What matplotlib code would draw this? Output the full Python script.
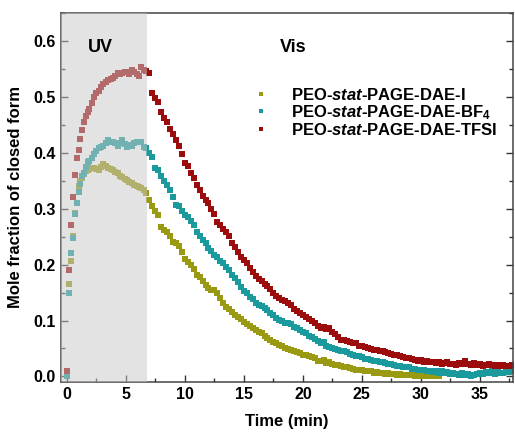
import matplotlib
matplotlib.use('Agg')
import matplotlib.pyplot as plt
from matplotlib.ticker import MultipleLocator

plt.rcParams['font.family'] = ['Liberation Sans', 'DejaVu Sans']
plt.rcParams['font.weight'] = 'bold'
plt.rcParams['mathtext.fontset'] = 'custom'
plt.rcParams['mathtext.rm'] = 'Liberation Sans:bold'
plt.rcParams['mathtext.it'] = 'Liberation Sans:bold:italic'
plt.rcParams['mathtext.bf'] = 'Liberation Sans:bold'

# sampling times (min): UV irradiation phase, then Vis decay phase
time_uv = [0.0, 0.17, 0.34, 0.5, 0.65, 0.82, 1.0, 1.15, 1.3, 1.45, 1.6, 1.75,
           1.9, 2.1, 2.3, 2.5, 2.7, 2.9, 3.1, 3.3, 3.5, 3.7, 3.9, 4.1, 4.3,
           4.5, 4.7, 4.9, 5.1, 5.3, 5.5, 5.7, 5.9, 6.1, 6.3, 6.5, 6.7]
time_vis = [7.0, 7.25, 7.5, 7.75, 8.0, 8.25, 8.5, 8.75, 9.0, 9.25, 9.5, 9.75,
            10.0, 10.25, 10.5, 10.75, 11.0, 11.25, 11.5, 11.75, 12.0, 12.25, 12.5, 12.75,
            13.0, 13.25, 13.5, 13.75, 14.0, 14.25, 14.5, 14.75, 15.0, 15.25, 15.5, 15.75,
            16.0, 16.25, 16.5, 16.75, 17.0, 17.25, 17.5, 17.75, 18.0, 18.25, 18.5, 18.75,
            19.0, 19.25, 19.5, 19.75, 20.0, 20.25, 20.5, 20.75, 21.0, 21.25, 21.5, 21.75,
            22.0, 22.25, 22.5, 22.75, 23.0, 23.25, 23.5, 23.75, 24.0, 24.25, 24.5, 24.75,
            25.0, 25.25, 25.5, 25.75, 26.0, 26.25, 26.5, 26.75, 27.0, 27.25, 27.5, 27.75,
            28.0, 28.25, 28.5, 28.75, 29.0, 29.25, 29.5, 29.75, 30.0, 30.25, 30.5, 30.75,
            31.0, 31.25, 31.5, 31.75, 32.0, 32.25, 32.5, 32.75, 33.0, 33.25, 33.5, 33.75,
            34.0, 34.25, 34.5, 34.75, 35.0, 35.25, 35.5, 35.75, 36.0, 36.25, 36.5, 36.75,
            37.0, 37.25, 37.5, 37.75]
time_min = time_uv + time_vis

# mole fraction of closed form
dae_i = [0.0, 0.166, 0.206, 0.252, 0.292, 0.31, 0.34, 0.35, 0.355, 0.362, 0.367, 0.37,
         0.371, 0.372, 0.372, 0.371, 0.37, 0.374, 0.379, 0.376, 0.373, 0.371, 0.37, 0.366,
         0.363, 0.359, 0.357, 0.353, 0.351, 0.348, 0.346, 0.343, 0.341, 0.338, 0.337, 0.333, 0.328,
         0.315, 0.305, 0.295, 0.288,
         0.268, 0.262, 0.258, 0.252,
         0.241, 0.238, 0.233, 0.222,
         0.21, 0.205, 0.2, 0.193,
         0.182, 0.177, 0.171, 0.163,
         0.158, 0.155, 0.154, 0.149,
         0.14, 0.132, 0.124, 0.12,
         0.115, 0.11, 0.106, 0.103,
         0.097, 0.094, 0.09, 0.087,
         0.083, 0.079, 0.077, 0.072,
         0.069, 0.066, 0.061, 0.059,
         0.057, 0.054, 0.051, 0.049,
         0.047, 0.045, 0.043, 0.041,
         0.039, 0.038, 0.036, 0.035,
         0.033, 0.028, 0.027, 0.03,
         0.024, 0.025, 0.023, 0.021,
         0.02, 0.018, 0.017, 0.016,
         0.015, 0.013, 0.012, 0.012,
         0.011, 0.01, 0.009, 0.009,
         0.007, 0.008, 0.007, 0.006,
         0.005, 0.006, 0.004, 0.004,
         0.003, 0.004, 0.003, 0.002,
         0.002, 0.003, 0.001, 0.002,
         0.001, 0.002, 0.0, 0.001,
         0.0, 0.001, 0.0]

dae_bf4 = [0.0, 0.15, 0.22, 0.248, 0.29, 0.31, 0.329, 0.345, 0.358, 0.364, 0.375, 0.383,
           0.386, 0.39, 0.398, 0.404, 0.408, 0.41, 0.412, 0.418, 0.422, 0.419, 0.42, 0.417,
           0.412, 0.418, 0.423, 0.415, 0.41, 0.413, 0.412, 0.417, 0.419, 0.42, 0.42, 0.411, 0.408,
           0.40, 0.392, 0.372, 0.369,
           0.358, 0.35, 0.343, 0.334,
           0.32, 0.307, 0.304, 0.296,
           0.289, 0.286, 0.278, 0.27,
           0.259, 0.252, 0.244, 0.238,
           0.229, 0.224, 0.218, 0.213,
           0.206, 0.202, 0.196, 0.19,
           0.181, 0.176, 0.168, 0.16,
           0.153, 0.149, 0.142, 0.139,
           0.131, 0.128, 0.126, 0.122,
           0.118, 0.113, 0.109, 0.105,
           0.101, 0.099, 0.096, 0.095,
           0.093, 0.089, 0.086, 0.083,
           0.079, 0.077, 0.073, 0.070,
           0.067, 0.063, 0.060, 0.061,
           0.055, 0.053, 0.051, 0.049,
           0.048, 0.046, 0.045, 0.043,
           0.040, 0.039, 0.036, 0.036,
           0.034, 0.032, 0.031, 0.03,
           0.028, 0.028, 0.026, 0.025,
           0.024, 0.022, 0.022, 0.020,
           0.019, 0.018, 0.017, 0.016,
           0.016, 0.014, 0.013, 0.012,
           0.011, 0.012, 0.009, 0.010,
           0.008, 0.010, 0.007, 0.009,
           0.006, 0.008, 0.005, 0.007,
           0.004, 0.003, 0.006, 0.002,
           0.004, 0.001, 0.003, 0.005,
           0.007, 0.004, 0.008, 0.006,
           0.009, 0.005, 0.011, 0.007,
           0.006, 0.01, 0.008, 0.009]

dae_tfsi = [0.01, 0.19, 0.27, 0.32, 0.36, 0.39, 0.405, 0.425, 0.44, 0.455, 0.465, 0.472,
            0.478, 0.489, 0.50, 0.506, 0.51, 0.518, 0.523, 0.527, 0.53, 0.532, 0.534, 0.538,
            0.542, 0.540, 0.543, 0.545, 0.544, 0.541, 0.548, 0.544, 0.541, 0.538, 0.553, 0.548, 0.546,
            0.543, 0.506, 0.498, 0.49,
            0.472, 0.463, 0.455, 0.443,
            0.434, 0.423, 0.412, 0.398,
            0.382, 0.376, 0.364, 0.354,
            0.343, 0.333, 0.323, 0.315,
            0.31, 0.299, 0.29, 0.277,
            0.27, 0.264, 0.259, 0.252,
            0.238, 0.232, 0.222, 0.214,
            0.208, 0.202, 0.194, 0.187,
            0.180, 0.175, 0.170, 0.165,
            0.161, 0.157, 0.149, 0.144,
            0.141, 0.137, 0.134, 0.131,
            0.127, 0.121, 0.117, 0.113,
            0.110, 0.107, 0.103, 0.099,
            0.096, 0.090, 0.086, 0.088,
            0.085, 0.086, 0.079, 0.075,
            0.071, 0.066, 0.065, 0.063,
            0.062, 0.060, 0.059, 0.055,
            0.054, 0.052, 0.051, 0.049,
            0.048, 0.047, 0.045, 0.046,
            0.043, 0.042, 0.040, 0.039,
            0.038, 0.036, 0.035, 0.033,
            0.033, 0.031, 0.030, 0.028,
            0.029, 0.026, 0.027, 0.025,
            0.026, 0.024, 0.025, 0.023,
            0.024, 0.026, 0.022, 0.023,
            0.021, 0.024, 0.022, 0.028,
            0.023, 0.021, 0.024, 0.020,
            0.022, 0.019, 0.021, 0.023,
            0.02, 0.018, 0.021, 0.019,
            0.02, 0.018, 0.019, 0.02]

labels = [r'PEO-$\mathit{stat}$-PAGE-DAE-I',
          r'PEO-$\mathit{stat}$-PAGE-DAE-BF$_4$',
          r'PEO-$\mathit{stat}$-PAGE-DAE-TFSI']
colors = ['#9a9a12', '#1a9a9c', '#9c0c0c']

fig = plt.figure(figsize=(5.15, 4.32), dpi=100)
ax = fig.add_axes([0.1184, 0.1157, 0.8776, 0.8543])

for vals, lab, c in zip([dae_i, dae_bf4, dae_tfsi], labels, colors):
    ax.plot(time_min[:len(vals)], vals, 's', color=c, markersize=4.4,
            markeredgewidth=0, label=lab, zorder=2)

# UV irradiation window (drawn over the points so they look faded)
ax.axvspan(-0.5, 6.8, color='#c8c8c8', alpha=0.5, lw=0, zorder=3)

ax.text(2.8, 0.588, 'UV', fontsize=13, fontweight='bold', ha='center', va='center', zorder=4)
ax.text(19.2, 0.588, 'Vis', fontsize=13, fontweight='bold', ha='center', va='center', zorder=4)

ax.set_xlim(-0.5, 37.8)
ax.set_ylim(-0.01, 0.65)
ax.xaxis.set_major_locator(MultipleLocator(5))
ax.xaxis.set_minor_locator(MultipleLocator(2.5))
ax.yaxis.set_minor_locator(MultipleLocator(0.05))
ax.set_yticks([0.0, 0.1, 0.2, 0.3, 0.4, 0.5, 0.6])
ax.set_yticklabels(['0.0', '0.1', '0.2', '0.3', '0.4', '0.5', '0.6'])
ax.tick_params(which='both', direction='in', right=True, labelsize=11.5, colors='#333333')
ax.tick_params(which='major', length=5, width=1)
ax.tick_params(which='minor', length=3, width=1)
for lab in ax.get_xticklabels() + ax.get_yticklabels():
    lab.set_color('black')
for s in ax.spines.values():
    s.set_color('#444444')
    s.set_linewidth(1.1)

ax.set_xlabel('Time (min)', fontsize=12, fontweight='bold', labelpad=9)
ax.set_ylabel('Mole fraction of closed form', fontsize=12, fontweight='bold', labelpad=8)

ax.legend(loc='upper left', bbox_to_anchor=(0.395, 0.84), frameon=False, fontsize=12,
          handlelength=0.8, handletextpad=1.4, labelspacing=0.0, markerscale=0.8)

fig.savefig('out.png', dpi=100)
